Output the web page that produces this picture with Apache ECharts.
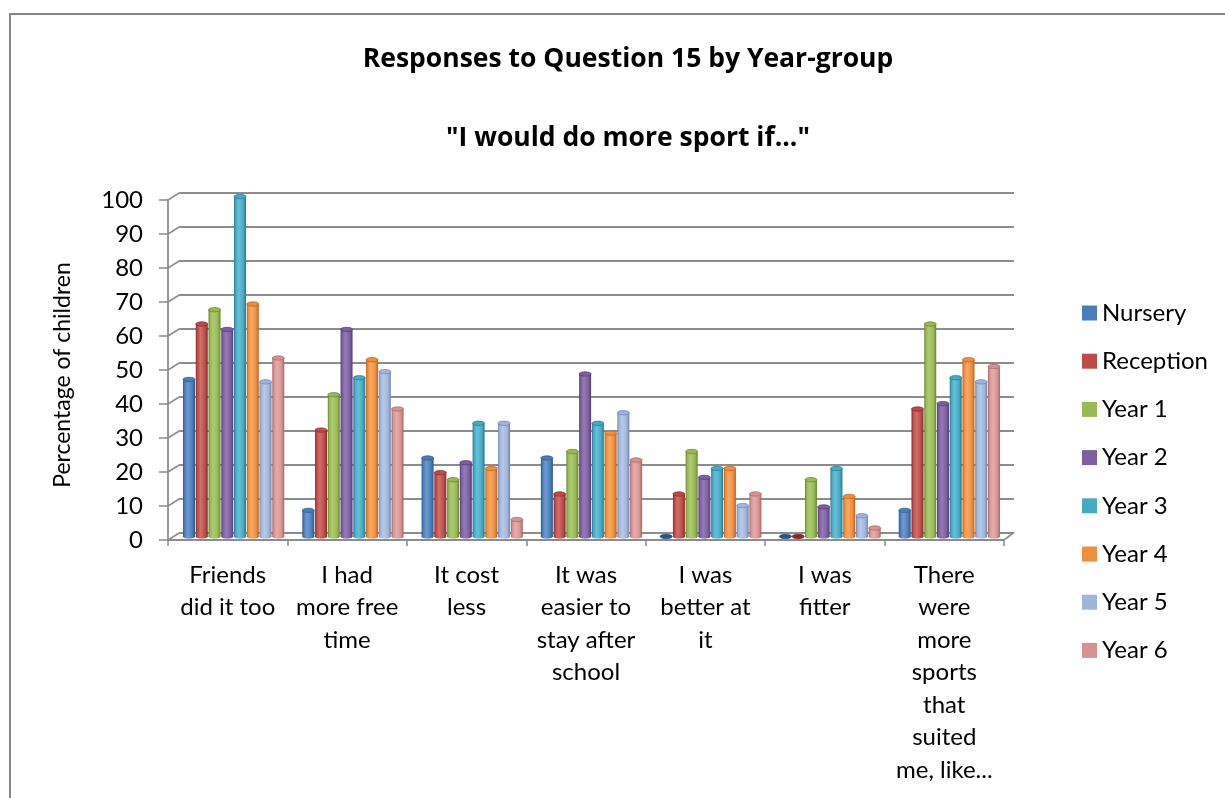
<!DOCTYPE html>
<html>
<head>
<meta charset="utf-8">
<title>Responses to Question 15 by Year-group</title>
<script src="https://cdn.jsdelivr.net/npm/echarts@6/dist/echarts.min.js"></script>
<style>
  html, body { margin: 0; padding: 0; background: #ffffff; }
  #chart { width: 1225px; height: 798px; }
</style>
</head>
<body>
<div id="chart"></div>
<script>
// Reasons children gave for doing more sport, percentage per year-group
const categories = [
  'Friends\ndid it too',
  'I had\nmore free\ntime',
  'It cost\nless',
  'It was\neasier to\nstay after\nschool',
  'I was\nbetter at\nit',
  'I was\nfitter',
  'There\nwere\nmore\nsports\nthat\nsuited\nme, like...'
];
const yearGroups = ['Nursery', 'Reception', 'Year 1', 'Year 2', 'Year 3', 'Year 4', 'Year 5', 'Year 6'];
const nursery   = [46.2, 7.7, 23.1, 23.1, 0, 0, 7.7];
const reception = [62.5, 31.3, 18.8, 12.5, 12.5, 0, 37.5];
const year1     = [66.7, 41.7, 16.7, 25, 25, 16.7, 62.5];
const year2     = [60.9, 60.9, 21.7, 47.8, 17.4, 8.7, 39.1];
const year3     = [100, 46.7, 33.3, 33.3, 20, 20, 46.7];
const year4     = [68.4, 52, 20, 30.4, 20, 11.8, 52];
const year5     = [45.5, 48.5, 33.3, 36.4, 9.1, 6.1, 45.5];
const year6     = [52.5, 37.5, 5, 22.5, 12.5, 2.5, 50];
const yTicks    = [0, 10, 20, 30, 40, 50, 60, 70, 80, 90, 100];

const seriesValues = [nursery, reception, year1, year2, year3, year4, year5, year6];

// cylinder shading: [dark edge, base, highlight]
const shades = [
  ['#2B5787', '#4A7EBB', '#6F9AD0'],
  ['#872A28', '#BE4B48', '#CF6F6C'],
  ['#66822F', '#98B954', '#AECB74'],
  ['#543A73', '#7D5FA0', '#957BB6'],
  ['#257690', '#46AAC5', '#6ABFD6'],
  ['#BA5F17', '#F08E3E', '#F8A866'],
  ['#6C81AD', '#A0B5DC', '#B8C9E8'],
  ['#A86462', '#D79391', '#E4AEAC']
];

const FONT = 'Lato';
const GRID_COLOR = '#8C8C8C';
const DEPTH_X = 12, DEPTH_Y = 7.5;

function cylinderRenderer(idx) {
  const [dark, base, light] = shades[idx];
  const body = new echarts.graphic.LinearGradient(0, 0, 1, 0, [
    { offset: 0, color: dark },
    { offset: 0.14, color: base },
    { offset: 0.4, color: light },
    { offset: 0.78, color: base },
    { offset: 1, color: dark }
  ]);
  return function (params, api) {
    const cat = api.value(0);
    const val = api.value(1);
    const bottom = api.coord([cat, 0]);
    const top = api.coord([cat, val]);
    const catW = api.size([1, 0])[0];
    const slot = catW * 0.855 / yearGroups.length;
    const w = slot * 0.94;
    const cx = bottom[0] + (idx - (yearGroups.length - 1) / 2) * slot;
    const ry = w * 0.18;
    const children = [
      { type: 'ellipse', shape: { cx: cx, cy: bottom[1], rx: w / 2, ry: ry }, style: { fill: body } }
    ];
    if (val > 0) {
      children.push({
        type: 'rect',
        shape: { x: cx - w / 2, y: top[1], width: w, height: bottom[1] - top[1] },
        style: { fill: body }
      });
    }
    children.push({
      type: 'ellipse',
      shape: { cx: cx, cy: top[1], rx: w / 2, ry: ry },
      style: { fill: val > 0 ? base : dark, stroke: dark, lineWidth: 0.7 }
    });
    return { type: 'group', children: children };
  };
}

const chart = echarts.init(document.getElementById('chart'), null, { renderer: 'canvas' });

const barSeries = seriesValues.map((vals, idx) => ({
  name: yearGroups[idx],
  type: 'custom',
  xAxisIndex: 2,
  yAxisIndex: 2,
  itemStyle: { color: shades[idx][1] },
  renderItem: cylinderRenderer(idx),
  data: vals.map((v, i) => [i, v]),
  z: 5
}));

// slanted links from the front value axis to the back wall gridlines
const depthSeries = {
  type: 'custom',
  xAxisIndex: 0,
  yAxisIndex: 0,
  silent: true,
  z: 3,
  renderItem: function (params, api) {
    const v = api.value(0);
    const half = api.size([1, 0])[0] / 2;
    const left = api.coord([0, v]);
    const lineStyle = { stroke: GRID_COLOR, lineWidth: 1.6 };
    const children = [{
      type: 'line',
      shape: { x1: left[0] - half, y1: left[1], x2: left[0] - half + DEPTH_X, y2: left[1] - DEPTH_Y },
      style: lineStyle
    }];
    if (v === 0) {
      const right = api.coord([categories.length - 1, 0]);
      children.push({
        type: 'line',
        shape: { x1: right[0] + half, y1: right[1], x2: right[0] + half + DEPTH_X - 2, y2: right[1] - DEPTH_Y },
        style: lineStyle
      });
    }
    return { type: 'group', children: children };
  },
  data: yTicks.map(t => [t])
};

const titleStyle = { fontFamily: 'Open Sans', fontWeight: 'bold', fontSize: 26.5, color: '#000', lineHeight: 32 };

chart.setOption({
  backgroundColor: '#ffffff',
  animation: false,
  title: [
    { text: 'Responses to Question 15 by Year-group', left: 623, textAlign: 'center', top: 38, textStyle: titleStyle },
    { text: '"I would do more sport if..."', left: 623, textAlign: 'center', top: 117, textStyle: titleStyle }
  ],
  legend: {
    orient: 'vertical',
    left: 1077,
    top: 296,
    itemWidth: 15,
    itemHeight: 15,
    itemGap: 24.2,
    icon: 'rect',
    data: yearGroups,
    textStyle: { fontFamily: FONT, fontSize: 24, color: '#000', lineHeight: 24 }
  },
  graphic: [{
    type: 'rect',
    silent: true,
    shape: { x: 10, y: 14, width: 1240, height: 900 },
    style: { fill: 'none', stroke: '#868686', lineWidth: 2 }
  }],
  grid: [
    { left: 168, right: 221, top: 200, bottom: 258 },
    { left: 180, right: 211, top: 192.5, bottom: 265.5 },
    { left: 174, right: 216, top: 196.5, bottom: 261.5 }
  ],
  xAxis: [
    {
      type: 'category', gridIndex: 0, data: categories,
      axisLine: { show: true, lineStyle: { color: GRID_COLOR, width: 1.8 } },
      axisTick: { show: true, length: 6, lineStyle: { color: GRID_COLOR, width: 1.5 } },
      axisLabel: {
        interval: 0, margin: 19, color: '#000',
        fontFamily: FONT, fontSize: 24, lineHeight: 32.5, align: 'center'
      },
      splitLine: { show: false }
    },
    { type: 'category', gridIndex: 1, data: categories, show: false },
    { type: 'category', gridIndex: 2, data: categories, show: false }
  ],
  yAxis: [
    {
      type: 'value', gridIndex: 0, min: 0, max: 100, interval: 10,
      name: 'Percentage of children',
      nameLocation: 'middle', nameGap: 94, nameRotate: 90,
      nameTextStyle: { fontFamily: FONT, fontSize: 23, color: '#000', padding: [0, 10, 0, 0] },
      axisLine: { show: true, lineStyle: { color: GRID_COLOR, width: 1.8 } },
      axisTick: { show: true, length: 9, lineStyle: { color: GRID_COLOR, width: 1.5 } },
      axisLabel: { margin: 25, color: '#000', fontFamily: FONT, fontSize: 24 },
      splitLine: { show: false }
    },
    {
      type: 'value', gridIndex: 1, min: 0, max: 100, interval: 10,
      axisLine: { show: false }, axisTick: { show: false }, axisLabel: { show: false },
      splitLine: { show: true, lineStyle: { color: GRID_COLOR, width: 1.8 } }
    },
    {
      type: 'value', gridIndex: 2, min: 0, max: 100, interval: 10, show: false,
      splitLine: { show: false }
    }
  ],
  series: [depthSeries].concat(barSeries)
});
</script>
</body>
</html>
